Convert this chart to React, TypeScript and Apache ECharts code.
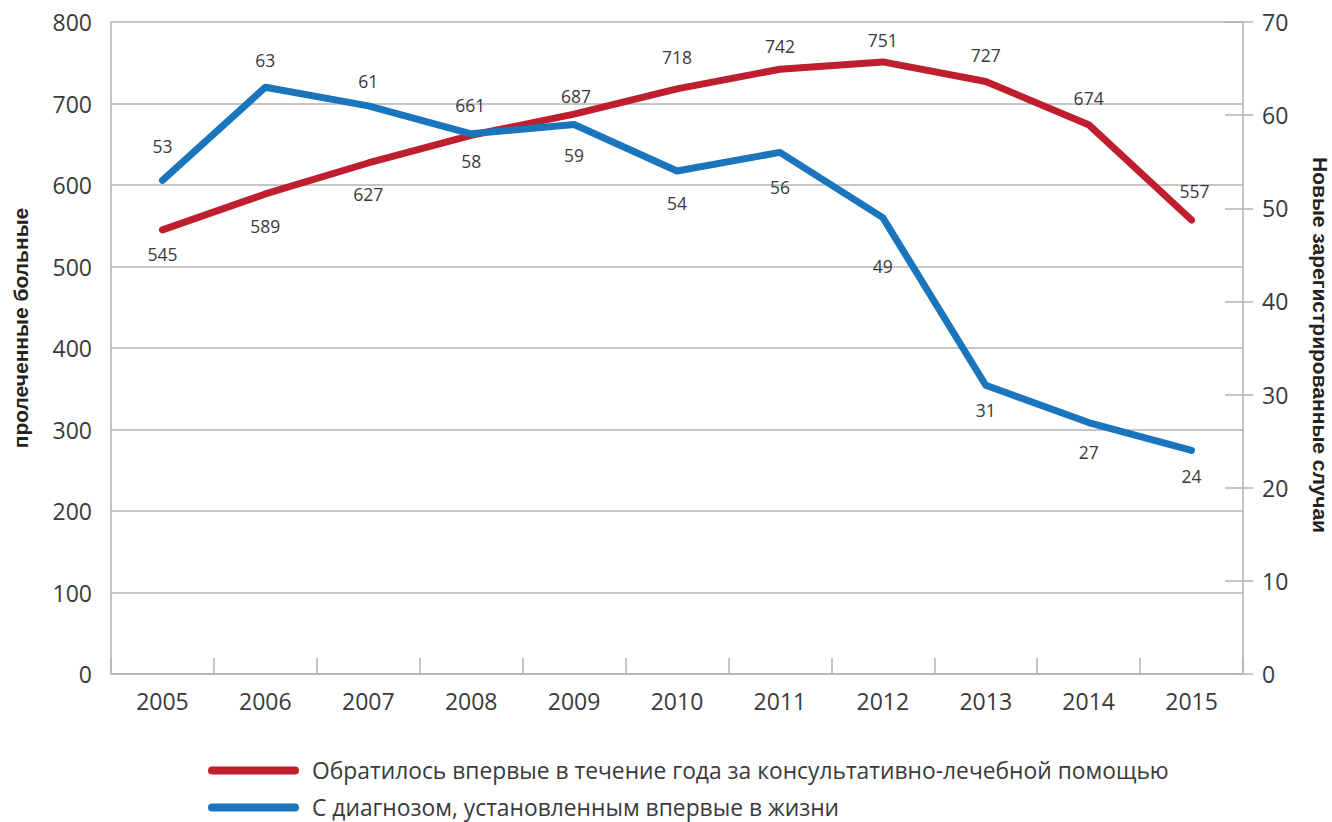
import React, { useEffect, useRef } from "react";
import * as echarts from "echarts";

const years = ["2005", "2006", "2007", "2008", "2009", "2010", "2011", "2012", "2013", "2014", "2015"];
const treated = [545, 589, 627, 661, 687, 718, 742, 751, 727, 674, 557];
const newCases = [53, 63, 61, 58, 59, 54, 56, 49, 31, 27, 24];
const leftTicks = [0, 800, 100];
const rightTicks = [0, 70, 10];
const treatedName = "Обратилось впервые в течение года за консультативно-лечебной помощью";
const newCasesName = "С диагнозом, установленным впервые в жизни";
const leftTitle = "пролеченные больные";
const rightTitle = "Новые зарегистрированные случаи";

// label placement: signed center offset (negative = above)
const treatedLabelOff = [24, 32, 31, -30, -18, -32, -23, -22, -26, -27, -29];
const newCasesLabelOff = [-34, -27, -25, 27, 31, 32, 35, 48, 25, 29, 26];

const RED = "#be1e2d";
const BLUE = "#1a75bc";
const GRID = "#b3b3b3";
const TXT = "#3a3a3a";
const FONT = "'Open Sans', 'Noto Sans', sans-serif";

function makeData(vals: number[], offs: number[], dx: number[] = []) {
  return vals.map((v, i) => ({
    value: v,
    label: {
      show: true,
      position: "inside",
      offset: [dx[i] || 0, offs[i]],
    },
  }));
}

const ICON = "path://M4,0 L88,0 A4,4 0 0 1 88,8 L4,8 A4,4 0 0 1 4,0 Z";

function legendFor(name: string, top: number) {
  return {
    orient: "horizontal",
    left: 208,
    top,
    padding: 0,
    itemWidth: 91,
    itemHeight: 8,
    icon: ICON,
    textStyle: { color: TXT, fontSize: 22.8, lineHeight: 22, fontFamily: FONT, padding: [0, 0, 0, 8] },
    data: [name],
  };
}

export default function App() {
  const ref = useRef<HTMLDivElement>(null);
  useEffect(() => {
    if (!ref.current) return;
    const chart = echarts.init(ref.current, undefined, { renderer: "svg" });
    const axisLabelStyle = { color: TXT, fontSize: 23, fontFamily: FONT };
    chart.setOption({
      animation: false,
      backgroundColor: "#ffffff",
      grid: { left: 111, right: 89, top: 22, bottom: 148, containLabel: false },
      legend: [legendFor(treatedName, 759), legendFor(newCasesName, 796)],
      xAxis: {
        type: "category",
        data: years,
        boundaryGap: true,
        axisLine: { show: true, lineStyle: { color: GRID, width: 1.5 } },
        axisTick: { show: true, inside: true, length: 16, interval: 0, lineStyle: { color: GRID, width: 1.5 } },
        axisLabel: { ...axisLabelStyle, margin: 15, interval: 0 },
        splitLine: { show: false },
      },
      yAxis: [
        {
          type: "value",
          position: "left",
          min: leftTicks[0],
          max: leftTicks[1],
          interval: leftTicks[2],
          axisLine: { show: true, lineStyle: { color: GRID, width: 1.5 } },
          axisTick: { show: false },
          axisLabel: { ...axisLabelStyle, margin: 19 },
          splitLine: { show: true, lineStyle: { color: GRID, width: 1.5 } },
        },
        {
          type: "value",
          position: "right",
          min: rightTicks[0],
          max: rightTicks[1],
          interval: rightTicks[2],
          axisLine: { show: true, lineStyle: { color: GRID, width: 1.5 } },
          axisTick: { show: true, inside: false, length: 10, lineStyle: { color: GRID, width: 1.5 } },
          axisLabel: { ...axisLabelStyle, margin: 19, align: "left" },
          splitLine: { show: false },
        },
        {
          type: "value",
          position: "right",
          min: rightTicks[0],
          max: rightTicks[1],
          interval: rightTicks[2],
          axisLine: { show: false },
          axisTick: { show: true, inside: true, length: 18, lineStyle: { color: GRID, width: 1.5 } },
          axisLabel: { show: false },
          splitLine: { show: false },
        },
      ],
      graphic: [
        {
          type: "text",
          x: 20,
          y: 328,
          rotation: Math.PI / 2,
          style: {
            text: leftTitle,
            fill: "#222",
            font: "bold 21px 'Liberation Sans', Arial, sans-serif",
            align: "center",
            verticalAlign: "middle",
          },
        },
        {
          type: "text",
          x: 1320,
          y: 345,
          rotation: -Math.PI / 2,
          style: {
            text: rightTitle,
            fill: "#222",
            font: "bold 21px 'Liberation Sans', Arial, sans-serif",
            align: "center",
            verticalAlign: "middle",
          },
        },
      ],
      series: [
        {
          name: treatedName,
          type: "line",
          yAxisIndex: 0,
          data: makeData(treated, treatedLabelOff, [0, 0, 0, -1, 2, 0, 0, 0, 0, 0, 3]),
          symbol: "circle",
          symbolSize: 1,
          showSymbol: true,
          itemStyle: { color: RED },
          lineStyle: { color: RED, width: 7, cap: "round", join: "round" },
          label: { color: TXT, fontSize: 17.5, fontFamily: FONT },
          z: 3,
        },
        {
          name: newCasesName,
          type: "line",
          yAxisIndex: 1,
          data: makeData(newCases, newCasesLabelOff),
          symbol: "circle",
          symbolSize: 1,
          showSymbol: true,
          itemStyle: { color: BLUE },
          lineStyle: { color: BLUE, width: 7, cap: "round", join: "round" },
          label: { color: TXT, fontSize: 17.5, fontFamily: FONT },
          z: 4,
        },
      ],
    });
    return () => chart.dispose();
  }, []);
  return <div ref={ref} style={{ width: 1332, height: 822, position: "absolute", left: 0, top: 0 }} />;
}
